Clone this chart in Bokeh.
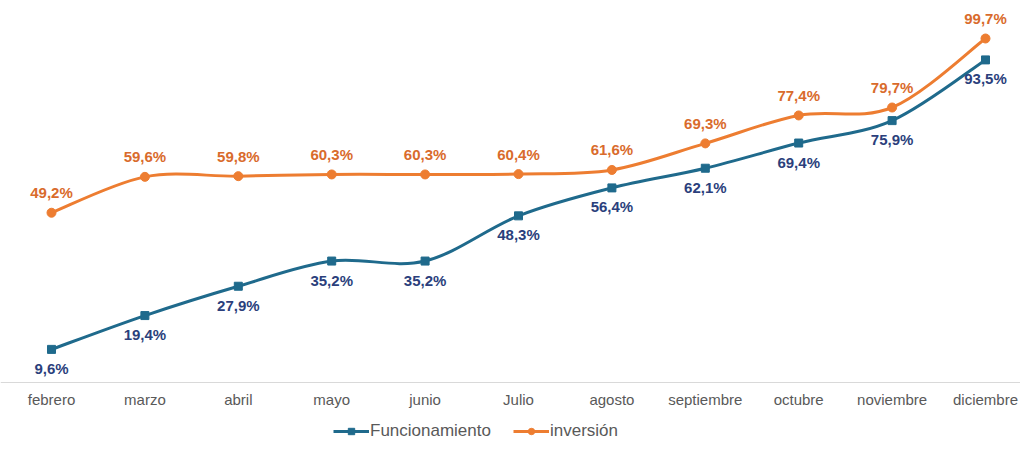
from bokeh.plotting import figure
from bokeh.models import (ColumnDataSource, Range1d, FixedTicker, Legend, LegendItem,
                          LinearAxis)
from bokeh.core.properties import value
from bokeh.embed import file_html
from bokeh.resources import INLINE

months = ["febrero", "marzo", "abril", "mayo", "junio", "Julio", "agosto",
          "septiembre", "octubre", "noviembre", "diciembre"]
funcionamiento = [9.6, 19.4, 27.9, 35.2, 35.2, 48.3, 56.4, 62.1, 69.4, 75.9, 93.5]
inversion = [49.2, 59.6, 59.8, 60.3, 60.3, 60.4, 61.6, 69.3, 77.4, 79.7, 99.7]

BLUE = "#1F6A8C"
BLUE_TXT = "#2B3F7C"
ORANGE = "#ED7D31"
ORANGE_TXT = "#D96B2C"
FONT = "Liberation Sans"

W, H = 1020, 443
xs = list(range(len(months)))


def bezier_source(ys):
    n = len(ys)
    d = dict(x0=[], y0=[], x1=[], y1=[], cx0=[], cy0=[], cx1=[], cy1=[])
    for i in range(n - 1):
        pm = i - 1 if i > 0 else i
        pp = i + 2 if i + 2 < n else i + 1
        d["x0"].append(xs[i]); d["y0"].append(ys[i])
        d["x1"].append(xs[i + 1]); d["y1"].append(ys[i + 1])
        d["cx0"].append(xs[i] + (xs[i + 1] - xs[pm]) / 6)
        d["cy0"].append(ys[i] + (ys[i + 1] - ys[pm]) / 6)
        d["cx1"].append(xs[i + 1] - (xs[pp] - xs[i]) / 6)
        d["cy1"].append(ys[i + 1] - (ys[pp] - ys[i]) / 6)
    return ColumnDataSource(d)


px_per_x = 93.4
x_start = -51 / px_per_x
x_end = x_start + W / px_per_x
px_per_y = (382 - 38) / 99.7
y_end = 382 / px_per_y
y_start = y_end - H / px_per_y

p = figure(width=W, height=H, output_backend="svg",
           toolbar_location=None, x_range=Range1d(x_start, x_end),
           y_range=Range1d(y_start, y_end), min_border=0,
           min_border_left=0, min_border_right=0, min_border_top=0,
           min_border_bottom=0, x_axis_location=None, y_axis_location=None)
p.outline_line_color = None
p.grid.visible = False
p.background_fill_color = "white"

ax = LinearAxis(fixed_location=0)
ax.ticker = FixedTicker(ticks=xs)
ax.major_label_overrides = {i: m for i, m in enumerate(months)}
ax.major_tick_line_color = None
ax.minor_tick_line_color = None
ax.axis_line_color = "#D9D9D9"
ax.axis_line_width = 1
ax.major_label_text_color = "#595959"
ax.major_label_text_font = FONT
ax.major_label_text_font_size = "15px"
ax.major_label_standoff = 2
p.add_layout(ax, "below")

# smoothed lines
bf = p.bezier("x0", "y0", "x1", "y1", "cx0", "cy0", "cx1", "cy1",
              source=bezier_source(funcionamiento), line_color=BLUE, line_width=3)
bi = p.bezier("x0", "y0", "x1", "y1", "cx0", "cy0", "cx1", "cy1",
              source=bezier_source(inversion), line_color=ORANGE, line_width=3)

sf = ColumnDataSource(dict(x=xs, y=funcionamiento,
                           t=[f"{v:.1f}".replace(".", ",") + "%" for v in funcionamiento]))
si = ColumnDataSource(dict(x=xs, y=inversion,
                           t=[f"{v:.1f}".replace(".", ",") + "%" for v in inversion]))

mf = p.scatter("x", "y", source=sf, marker="square", size=8, color=BLUE)
mi = p.scatter("x", "y", source=si, marker="circle", size=9, color=ORANGE)

p.text("x", "y", text="t", source=sf, y_offset=19, text_align="center",
       text_baseline="middle", text_font=value(FONT), text_font_style="bold",
       text_font_size="15px", text_color=BLUE_TXT)
p.text("x", "y", text="t", source=si, y_offset=-20, text_align="center",
       text_baseline="middle", text_font=value(FONT), text_font_style="bold",
       text_font_size="15px", text_color=ORANGE_TXT)

legend = Legend(items=[LegendItem(label="Funcionamiento", renderers=[bf, mf]),
                       LegendItem(label="inversión", renderers=[bi, mi])],
                orientation="horizontal", location=(333, 2),
                border_line_color=None, background_fill_alpha=0,
                label_text_font=FONT, label_text_font_size="17px",
                label_text_color="#595959", glyph_width=36, glyph_height=16,
                label_standoff=1, spacing=22, padding=0, margin=0)
p.add_layout(legend, "center")

open("out.html", "w").write(file_html(p, INLINE))
